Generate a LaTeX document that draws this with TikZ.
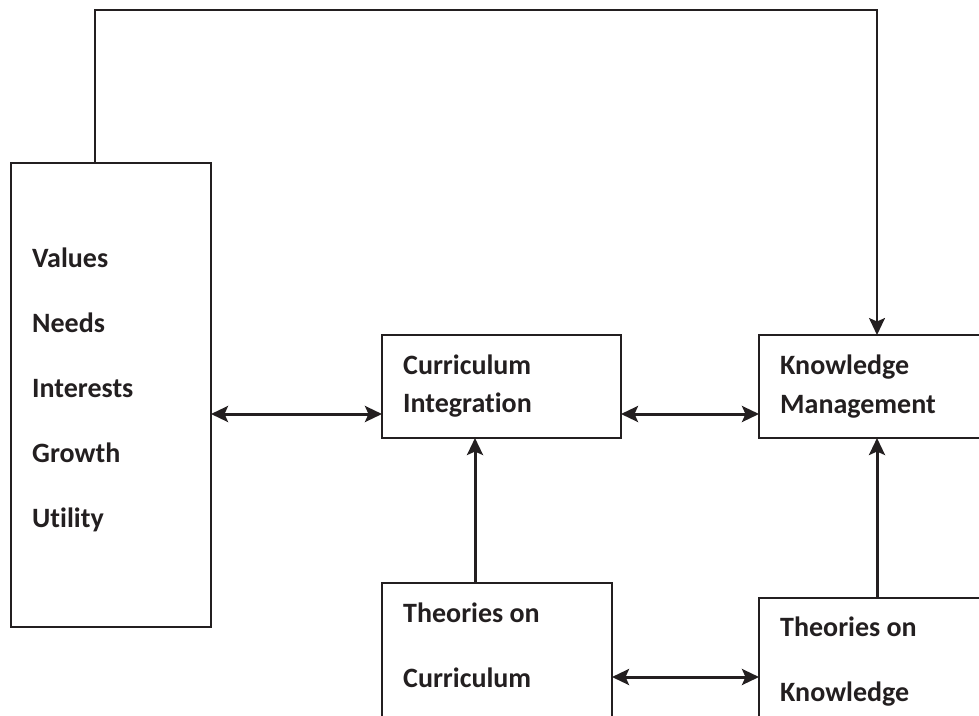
\documentclass[tikz,border=0pt]{standalone}
\usepackage{fontspec}
\setmainfont{Carlito}[Ligatures=NoCommon]
\usetikzlibrary{arrows.meta}
\definecolor{ink}{HTML}{231F20}
\tikzset{
  boxnode/.style={draw=ink, line width=2pt, fill=none, inner sep=0pt, outer sep=0pt, rectangle},
  lbl/.style={anchor=base west, inner sep=0pt, font=\fontsize{28}{30}\selectfont\bfseries, text=ink},
  tip/.tip={Stealth[length=17pt,width=16pt,inset=3.5pt]},
  conn/.style={draw=ink, line width=3pt, tip-tip},
  uparrow/.style={draw=ink, line width=3pt, -tip},
  feed/.style={draw=ink, line width=2.2pt, -tip}
}
\begin{document}
\begin{tikzpicture}[x=1pt,y=-1pt]
\useasboundingbox (0,0) rectangle (979,715);
\clip (0,0) rectangle (979,715);
% boxes
\node[boxnode, minimum width=200pt, minimum height=464pt] (vals) at (111,395) {};
\node[boxnode, minimum width=239pt, minimum height=103pt] (ci) at (501.5,386.5) {};
\node[boxnode, minimum width=240pt, minimum height=103pt] (km) at (879,386.5) {};
\node[boxnode, minimum width=230pt, minimum height=160pt] (tc) at (497,663) {};
\node[boxnode, minimum width=240pt, minimum height=160pt] (tk) at (879,678) {};
% texts
\node[lbl] (t1) at (32,267) {Values};
\node[lbl] (t2) at (32,332) {Needs};
\node[lbl] (t3) at (32,397) {Interests};
\node[lbl] (t4) at (32,462) {Growth};
\node[lbl] (t5) at (32,527) {Utility};
\node[lbl] (ci1) at (403,374) {Curriculum};
\node[lbl] (ci2) at (403,412) {Integration};
\node[lbl] (km1) at (780,374) {Knowledge};
\node[lbl] (km2) at (780,413) {Management};
\node[lbl] (tc1) at (403,622) {Theories on};
\node[lbl] (tc2) at (403,687) {Curriculum};
\node[lbl] (tk1) at (780,636) {Theories on};
\node[lbl] (tk2) at (780,701) {Knowledge};
% coordinates
\coordinate (a0) at (95,163);
\coordinate (a1) at (95,10);
\coordinate (a2) at (877,10);
\coordinate (a3) at (877,335);
\coordinate (b0) at (475,583);
\coordinate (b1) at (475,438);
\coordinate (c0) at (877,598);
\coordinate (c1) at (877,438);
% connectors
\draw[feed] (a0) -- (a1) -- (a2) -- (a3);
\draw[conn] (vals.east |- 0,414) -- (ci.west |- 0,414);
\draw[conn] (ci.east |- 0,414) -- (km.west |- 0,414);
\draw[conn] (tc.east |- 0,677) -- (tk.west |- 0,677);
\draw[uparrow] (b0) -- (b1);
\draw[uparrow] (c0) -- (c1);
\end{tikzpicture}
\end{document}
